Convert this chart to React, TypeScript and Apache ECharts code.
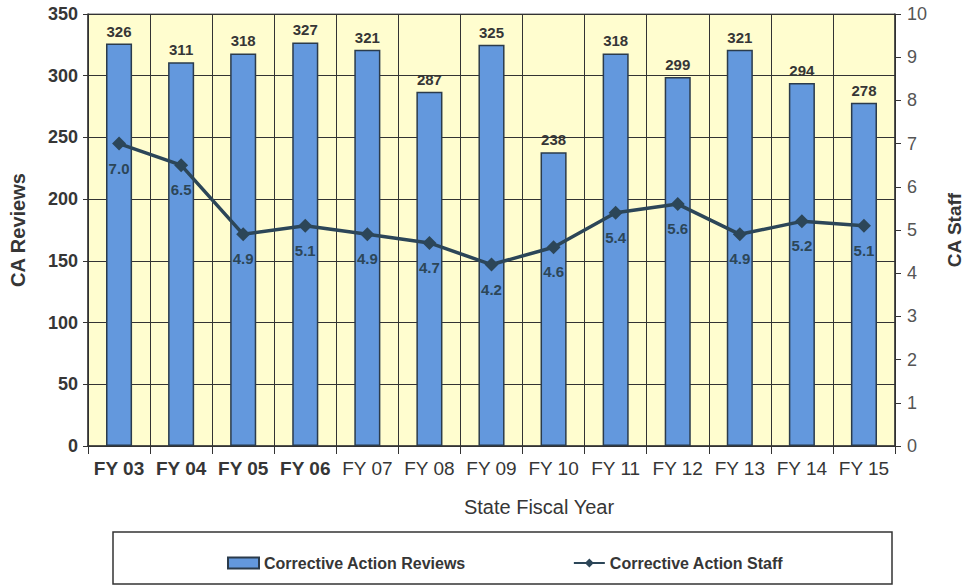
import React, { useEffect, useRef } from "react";
import * as echarts from "echarts";

const categories = ["FY 03", "FY 04", "FY 05", "FY 06", "FY 07", "FY 08", "FY 09", "FY 10", "FY 11", "FY 12", "FY 13", "FY 14", "FY 15"];
const reviews = [326, 311, 318, 327, 321, 287, 325, 238, 318, 299, 321, 294, 278];
const staff = [7.0, 6.5, 4.9, 5.1, 4.9, 4.7, 4.2, 4.6, 5.4, 5.6, 4.9, 5.2, 5.1];
const boldLabelCount = 4;

const FONT = "'Liberation Sans', Arial, sans-serif";
const TEXT = "#363636";
const LINE = "#2c4658";

export default function App() {
  const ref = useRef<HTMLDivElement>(null);
  useEffect(() => {
    if (!ref.current) return;
    const chart = echarts.init(ref.current, undefined, { renderer: "svg" });
    chart.setOption({
      animation: false,
      backgroundColor: "#ffffff",
      textStyle: { fontFamily: FONT },
      grid: {
        left: 88,
        right: 64,
        top: 14,
        bottom: 140,
        show: true,
        backgroundColor: "#FFFDCF",
        borderColor: "#666",
        borderWidth: 1,
      },
      legend: {
        left: 222,
        top: 550,
        itemWidth: 31,
        itemHeight: 11,
        itemGap: 107,
        textStyle: { fontFamily: FONT, fontSize: 16, fontWeight: "bold", color: TEXT },
        data: [
          { name: "Corrective Action Reviews", icon: "rect" },
          { name: "Corrective Action Staff" },
        ],
      },
      graphic: [
        {
          type: "rect",
          shape: { x: 113, y: 532, width: 779, height: 52 },
          style: { fill: "none", stroke: "#333", lineWidth: 1.5 },
          z: -1,
        },
        {
          type: "text",
          x: 539,
          y: 507,
          style: {
            text: "State Fiscal Year",
            fontFamily: FONT,
            fontSize: 20,
            fill: TEXT,
            align: "center",
            verticalAlign: "middle",
          },
        },
      ],
      xAxis: {
        type: "category",
        data: categories,
        boundaryGap: true,
        axisLine: { lineStyle: { color: "#333", width: 1.5 } },
        axisTick: { show: true, interval: 0, length: 8, lineStyle: { color: "#333" } },
        splitLine: { show: true, interval: 0, lineStyle: { color: "#333", width: 1 } },
        axisLabel: {
          interval: 0,
          margin: 13,
          formatter: (v: string) => {
            const idx = categories.indexOf(v);
            return idx < boldLabelCount ? `{b|${v}}` : `{n|${v}}`;
          },
          rich: {
            b: { fontFamily: FONT, fontSize: 19, fontWeight: "bold", color: TEXT },
            n: { fontFamily: FONT, fontSize: 19, color: TEXT },
          },
        },
      },
      yAxis: [
        {
          type: "value",
          min: 0,
          max: 350,
          interval: 50,
          name: "CA Reviews",
          nameLocation: "middle",
          nameRotate: 90,
          nameGap: 60,
          nameTextStyle: { fontFamily: FONT, fontSize: 20, fontWeight: "bold", color: TEXT },
          axisLine: { show: true, lineStyle: { color: "#333", width: 1.5 } },
          axisTick: { show: true, length: 5, lineStyle: { color: "#333" } },
          axisLabel: { fontFamily: FONT, fontSize: 18, fontWeight: "bold", color: TEXT, margin: 10 },
          splitLine: { show: true, lineStyle: { color: "#333", width: 1 } },
        },
        {
          type: "value",
          min: 0,
          max: 10,
          interval: 1,
          name: "CA Staff",
          nameLocation: "middle",
          nameRotate: 90,
          nameGap: 50,
          nameTextStyle: { fontFamily: FONT, fontSize: 19, fontWeight: "bold", color: TEXT },
          axisLine: { show: true, lineStyle: { color: "#333", width: 1.5 } },
          axisTick: { show: true, length: 6, lineStyle: { color: "#333" } },
          axisLabel: { fontFamily: FONT, fontSize: 18, color: "#555", margin: 12 },
          splitLine: { show: false },
        },
      ],
      series: [
        {
          name: "Corrective Action Reviews",
          type: "bar",
          data: reviews,
          barWidth: "42%",
          itemStyle: { color: "#6398DD", borderColor: "#2b3b4b", borderWidth: 1.5 },
          label: {
            show: true,
            position: "top",
            distance: 5,
            fontFamily: FONT,
            fontSize: 15,
            fontWeight: "bold",
            color: TEXT,
          },
        },
        {
          name: "Corrective Action Staff",
          type: "line",
          yAxisIndex: 1,
          data: staff,
          symbol: "diamond",
          symbolSize: 14,
          lineStyle: { color: LINE, width: 3.5 },
          itemStyle: { color: LINE },
          label: {
            show: true,
            position: "bottom",
            distance: 10,
            formatter: (p: any) => Number(p.value).toFixed(1),
            fontFamily: FONT,
            fontSize: 15,
            fontWeight: "bold",
            color: LINE,
          },
        },
      ],
    });
    return () => chart.dispose();
  }, []);
  return <div ref={ref} style={{ width: 972, height: 586, position: "absolute", left: 0, top: 0 }} />;
}
